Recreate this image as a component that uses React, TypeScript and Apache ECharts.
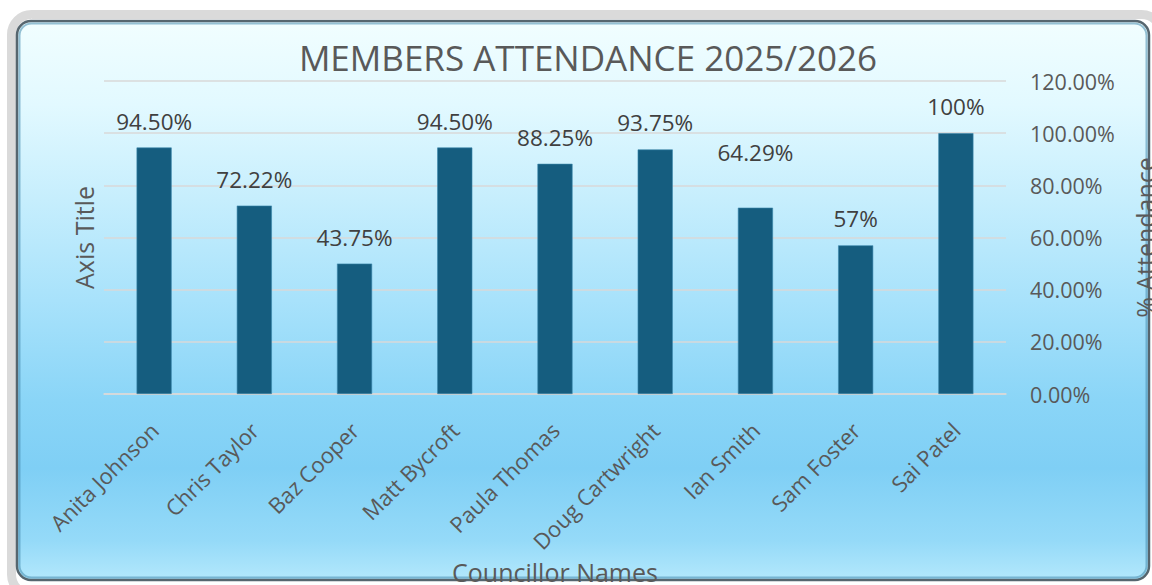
import React, { useEffect, useRef } from "react";
import * as echarts from "echarts";

const councillors = [
  "Anita Johnson",
  "Chris Taylor",
  "Baz Cooper",
  "Matt Bycroft",
  "Paula Thomas",
  "Doug Cartwright",
  "Ian Smith",
  "Sam Foster",
  "Sai Patel",
];
const attendance = [94.5, 72.22, 50, 94.5, 88.25, 93.75, 71.43, 57, 100];
const labelTexts = ["94.50%", "72.22%", "43.75%", "94.50%", "88.25%", "93.75%", "64.29%", "57%", "100%"];
const yTicks = { min: 0, max: 120, interval: 20 };

const FONT = "'Open Sans', 'Noto Sans', sans-serif";
const TXT = "#595959";

export default function App() {
  const ref = useRef<HTMLDivElement>(null);
  useEffect(() => {
    if (!ref.current) return;
    const chart = echarts.init(ref.current, undefined, { renderer: "svg" });
    const bg = new echarts.graphic.LinearGradient(0, 0, 0, 1, [
      { offset: 0, color: "#f1feff" },
      { offset: 0.15, color: "#e2f9ff" },
      { offset: 0.32, color: "#c6eefd" },
      { offset: 0.5, color: "#a8e2fb" },
      { offset: 0.68, color: "#8ad5f7" },
      { offset: 0.8, color: "#7fcff5" },
      { offset: 0.93, color: "#95daf8" },
      { offset: 1, color: "#b3e8fc" },
    ]);
    chart.setOption({
      animation: false,
      backgroundColor: "transparent",
      textStyle: { fontFamily: FONT },
      graphic: [
        {
          type: "rect",
          z: -10,
          silent: true,
          shape: { x: 11.5, y: 14.5, width: 1150, height: 580, r: 20 },
          style: { fill: "none", stroke: "#dadada", lineWidth: 9 },
        },
        {
          type: "rect",
          z: -9,
          silent: true,
          shape: { x: 17, y: 21, width: 1132, height: 559, r: 14 },
          style: { fill: bg, stroke: "#56666f", lineWidth: 2.5 },
        },
        {
          type: "rect",
          z: -8,
          silent: true,
          shape: { x: 19.5, y: 23.5, width: 1127, height: 554, r: 12 },
          style: { fill: "none", stroke: "rgba(70,140,175,0.55)", lineWidth: 2 },
        },
      ],
      title: {
        text: "MEMBERS ATTENDANCE 2025/2026",
        left: 583,
        textAlign: "center",
        top: 35,
        textStyle: { fontFamily: FONT, fontSize: 35, fontWeight: "normal", color: TXT },
      },
      grid: { left: 104, right: 146, top: 81, bottom: 191, containLabel: false, outerBoundsMode: "none" },
      xAxis: {
        type: "category",
        data: councillors,
        axisTick: { show: false },
        axisLine: { lineStyle: { color: "#d9d9d9", width: 1.5 } },
        axisLabel: { rotate: 45, margin: 32, color: TXT, fontSize: 22, fontFamily: FONT, interval: 0 },
        name: "Councillor Names",
        nameLocation: "middle",
        nameGap: 165,
        nameTextStyle: { color: TXT, fontSize: 25, fontFamily: FONT },
      },
      yAxis: [
        {
          type: "value",
          position: "right",
          min: yTicks.min,
          max: yTicks.max,
          interval: yTicks.interval,
          axisLine: { show: false },
          axisTick: { show: false },
          splitLine: { lineStyle: { color: "#d9d9d9", width: 1.5 } },
          axisLabel: {
            margin: 24,
            color: TXT,
            fontSize: 21.5,
            fontFamily: FONT,
            formatter: (v: number) => v.toFixed(2) + "%",
          },
          name: "% Attendance",
          nameLocation: "middle",
          nameGap: 126,
          nameRotate: 90,
          nameTextStyle: { color: TXT, fontSize: 25, fontFamily: FONT },
        },
        {
          type: "value",
          position: "left",
          min: yTicks.min,
          max: yTicks.max,
          interval: yTicks.interval,
          axisLine: { show: false },
          axisTick: { show: false },
          axisLabel: { show: false },
          splitLine: { show: false },
          name: "Axis Title",
          nameLocation: "middle",
          nameGap: 8,
          nameRotate: 90,
          nameTextStyle: { color: TXT, fontSize: 25, fontFamily: FONT },
        },
      ],
      series: [
        {
          type: "bar",
          yAxisIndex: 0,
          barWidth: "35%",
          data: attendance.map((v, i) =>
            i === 6 ? { value: v, label: { distance: 44 } } : v
          ),
          itemStyle: { color: "#155d7f", borderColor: "#3b87ab", borderWidth: 0.6 },
          label: {
            show: true,
            position: "top",
            distance: 15,
            color: "#404040",
            fontSize: 22.5,
            fontFamily: FONT,
            formatter: (p: any) => labelTexts[p.dataIndex],
          },
        },
      ],
    });
    return () => chart.dispose();
  }, []);
  return (
    <div
      ref={ref}
      style={{ position: "absolute", left: 0, top: 0, width: 1152, height: 585 }}
    />
  );
}
